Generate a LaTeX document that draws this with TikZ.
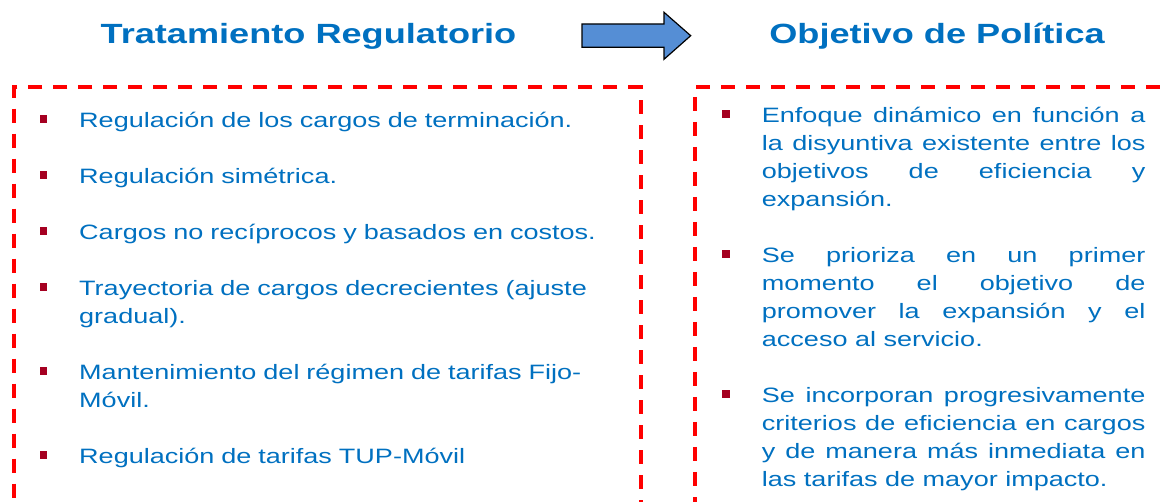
\documentclass[tikz,border=0pt]{standalone}
\usepackage{fontspec}
\setmainfont{Liberation Sans}[FakeStretch=1.3]
\usepackage{tikz}
\usetikzlibrary{positioning}

\definecolor{azultexto}{RGB}{0,112,192}
\definecolor{vinetarojo}{RGB}{165,0,33}
\definecolor{rojocaja}{RGB}{255,0,0}
\definecolor{azulflecha}{RGB}{85,142,213}

\newcommand{\vineta}{\noindent\llap{\textcolor{vinetarojo}{\rule[4.5pt]{7.5pt}{7.5pt}}\hspace{32pt}}\rule{0pt}{22pt}}

\begin{document}
\begin{tikzpicture}[x=1pt, y=-1pt,
  titulo/.style={anchor=base, inner sep=0pt, text=azultexto, font=\fontsize{27.8}{32}\selectfont\bfseries},
  caja/.style={draw=rojocaja, line width=4pt, dash pattern=on 14pt off 11pt, anchor=north west, inner sep=0pt, outer sep=0pt},
  lista/.style={anchor=north west, inner sep=0pt, text=azultexto, font=\fontsize{20.8}{28}\selectfont,
    execute at begin node={\setlength{\parskip}{28pt}\hyphenpenalty=10000\tolerance=10000}},
  flecha/.style={draw=black, line width=1.2pt, fill=azulflecha, line join=miter}]

\useasboundingbox (0,0) rectangle (1171,502);
\clip (0,0) rectangle (1171,502);

\node[titulo] (tituloReg) at (308.5,44) {Tratamiento Regulatorio};
\node[titulo] (tituloObj) at (937,44) {Objetivo de Política};

\draw[flecha] (582,24) -- (664,24) -- (664,12.3) -- (690.7,35.7) -- (664,59.3) -- (664,47.3) -- (582,47.3) -- cycle;

\node[caja, minimum width=626.7pt, minimum height=500pt] (cajaReg) at (14,87) {};
\node[caja, minimum width=520pt, minimum height=500pt] (cajaObj) at (694.7,87) {};

\node[lista, text width=545pt, align=left] (listaReg) at (79,105) {%
\vineta Regulación de los cargos de terminación.\par
\vineta Regulación simétrica.\par
\vineta Cargos no recíprocos y basados en costos.\par
\vineta Trayectoria de cargos decrecientes (ajuste\\gradual).\par
\vineta Mantenimiento del régimen de tarifas Fijo-\\Móvil.\par
\vineta Regulación de tarifas TUP-Móvil};

\node[lista, text width=383.5pt, align=justify] (listaObj) at (761.7,100.3) {%
\vineta Enfoque dinámico en función a\linebreak la disyuntiva existente entre los\linebreak objetivos de eficiencia y\linebreak expansión.\par
\vineta Se prioriza en un primer\linebreak momento el objetivo de\linebreak promover la expansión y el\linebreak acceso al servicio.\par
\vineta Se incorporan progresivamente\linebreak criterios de eficiencia en cargos\linebreak y de manera más inmediata en\linebreak las tarifas de mayor impacto.};

\end{tikzpicture}
\end{document}
